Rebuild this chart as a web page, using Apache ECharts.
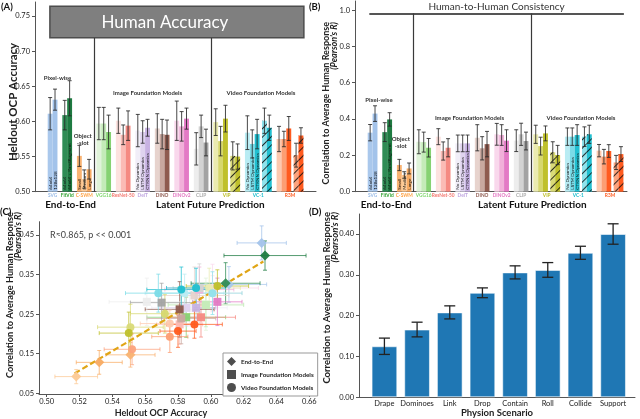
<!DOCTYPE html>
<html>
<head>
<meta charset="utf-8">
<title>Physion OCP</title>
<script src="https://cdn.jsdelivr.net/npm/echarts@6.0.0/dist/echarts.min.js"></script>
<style>
html, body { margin: 0; padding: 0; background: #fff; }
#main { width: 640px; height: 419px; }
</style>
</head>
<body>
<div id="main"></div>
<script>
// model groups shared by panels A, B and C
var groupNames = ['SVG', 'FitVid', 'C-SWM', 'VGG16', 'ResNet-50', 'DeiT', 'DINO', 'DINOv2', 'CLIP', 'VIP', 'VC-1', 'R3M'];
var groupKind = ['End-to-End', 'End-to-End', 'End-to-End',
  'Image Foundation Models', 'Image Foundation Models', 'Image Foundation Models',
  'Image Foundation Models', 'Image Foundation Models', 'Image Foundation Models',
  'Video Foundation Models', 'Video Foundation Models', 'Video Foundation Models'];
var nameColors = ['#9bbde8', '#2ca02c', '#ffa040', '#7dd66a', '#f47a72', '#bea3e0', '#8c564b', '#e377c2', '#aaaaaa', '#bcbd22', '#17becf', '#ff5a1e'];
var barColors = [
  ['#aac8ec', '#a3c3ea'],
  ['#2f8c55', '#1e7b41'],
  ['#f9b373', '#fcca96', '#f8ab63'],
  ['#e0f3d9', '#c4ebb8', '#86d272'],
  ['#fde2df', '#fbbbb5', '#f58a82'],
  ['#f1eef8', '#dfd3ef', '#c7b1e2'],
  ['#e7d3cd', '#c9a89f', '#8f5b4f'],
  ['#f9d8ec', '#f1b0d9', '#e37ac5'],
  ['#ededed', '#d3d3d3', '#a3a3a3'],
  ['#eaebb0', '#d6d76e', '#bfc02c', '#d9da78', '#bfc02c'],
  ['#b9ecf3', '#7adbe7', '#20bfd0', '#8fe2ec', '#20bfd0'],
  ['#fdc9af', '#fc9e73', '#ff5b1f', '#fca37d', '#ff5b1f']
];
var barLabels = [
  ['64x64', '128x128'],
  ['64x64', '64x64 + RandAugment'],
  ['Small', 'Medium', 'Large'],
  [], [],
  ['No Dynamics', 'LSTM Dynamics', 'CTRNN Dynamics'],
  [], [], [], [],
  ['No Dynamics', 'LSTM Dynamics', 'CTRNN Dynamics'],
  []
];

// (A) heldout OCP accuracy
var accMean = [
  [0.611, 0.631], [0.609, 0.633], [0.551, 0.518, 0.532],
  [0.597, 0.597, 0.585], [0.601, 0.581, 0.594], [0.587, 0.585, 0.591],
  [0.590, 0.582, 0.581], [0.601, 0.593, 0.604], [0.561, 0.593, 0.570],
  [0.599, 0.572, 0.604, 0.551, 0.550], [0.584, 0.568, 0.582, 0.601, 0.591], [0.575, 0.575, 0.590, 0.552, 0.580]
];
var accErr = [
  [0.023, 0.015], [0.021, 0.025], [0.015, 0.013, 0.014],
  [0.023, 0.023, 0.024], [0.018, 0.014, 0.021], [0.023, 0.016, 0.012],
  [0.021, 0.021, 0.021], [0.028, 0.021, 0.015], [0.023, 0.016, 0.019],
  [0.019, 0.021, 0.019, 0.020, 0.018], [0.024, 0.020, 0.021, 0.018, 0.018], [0.018, 0.011, 0.017, 0.017, 0.011]
];
var humanAcc = [0.719, 0.764];

// (B) correlation to average human response
var corrMean = [
  [0.325, 0.430], [0.328, 0.398], [0.147, 0.092, 0.128],
  [0.275, 0.273, 0.242], [0.303, 0.224, 0.242], [0.266, 0.266, 0.266],
  [0.297, 0.239, 0.262], [0.316, 0.312, 0.281], [0.281, 0.316, 0.279],
  [0.316, 0.251, 0.321, 0.217, 0.202], [0.303, 0.303, 0.312, 0.303, 0.316], [0.226, 0.193, 0.224, 0.161, 0.207]
];
var corrErr = [
  [0.045, 0.043], [0.052, 0.037], [0.031, 0.018, 0.030],
  [0.066, 0.055, 0.051], [0.044, 0.050, 0.050], [0.046, 0.046, 0.046],
  [0.072, 0.064, 0.070], [0.060, 0.057, 0.060], [0.060, 0.061, 0.049],
  [0.050, 0.049, 0.041, 0.058, 0.053], [0.048, 0.048, 0.057, 0.054, 0.050], [0.034, 0.040, 0.035, 0.039, 0.041]
];
var humanConsistency = 0.982;

// (C) fitted line
var fitLine = [[0.517, 0.100], [0.632, 0.383]];

// (D) per scenario
var scenarios = ['Drape', 'Dominoes', 'Link', 'Drop', 'Contain', 'Roll', 'Collide', 'Support'];
var scenarioCorr = [0.125, 0.166, 0.208, 0.256, 0.306, 0.312, 0.354, 0.400];
var scenarioErr = [0.020, 0.018, 0.016, 0.012, 0.016, 0.018, 0.016, 0.025];

// tick labels
var ticksA = [0.50, 0.55, 0.60, 0.65, 0.70, 0.75];
var ticksB = [0.0, 0.2, 0.4, 0.6, 0.8, 1.0];
var ticksCx = [0.50, 0.52, 0.54, 0.56, 0.58, 0.60, 0.62, 0.64, 0.66];
var ticksCy = [0.05, 0.15, 0.25, 0.35, 0.45];
var ticksD = [0.0, 0.1, 0.2, 0.3, 0.4];
var ticksDx = [0, 1, 2, 3, 4, 5, 6, 7];

var kinds = ['End-to-End', 'Image Foundation Models', 'Video Foundation Models'];
var kindSymbol = ['diamond', 'rect', 'circle'];

// bar slots: bars touch inside a group, one empty slot between groups,
// half a slot before the hatched video bars
var slots = [];
var pos = 0;
groupNames.forEach(function(n, g) {
    if (g > 0) pos += 1;
    accMean[g].forEach(function(v, k) {
        if (k === 3) pos += 0.5;
        slots.push({g: g, k: k, x: pos});
        pos += 1;
    });
});
function groupCenter(g) {
    var xs = slots.filter(function(s) { return s.g === g; }).map(function(s) { return s.x; });
    return (xs[0] + xs[xs.length - 1]) / 2;
}

var hatch = {symbol: 'rect', color: 'rgba(15,15,15,0.85)', dashArrayX: [1, 0], dashArrayY: [1, 5], rotation: -Math.PI / 4};
var axisColor = '#555';
var FONT = 'Lato';

function barData(mean) {
    return slots.map(function(s) {
        var item = {value: [s.x, mean[s.g][s.k]], itemStyle: {color: barColors[s.g][s.k]}};
        if (s.k >= 3) item.itemStyle.decal = hatch;
        var lbl = barLabels[s.g][s.k];
        if (lbl) item.label = {show: true, formatter: lbl};
        return item;
    });
}
function errRows(mean, err) {
    return slots.map(function(s) {
        var m = mean[s.g][s.k], e = err[s.g][s.k];
        return [s.x, m - e, m + e];
    });
}
function vErrSeries(grid, rows, color, width, cap) {
    return {
        type: 'custom', xAxisIndex: grid, yAxisIndex: grid, silent: true, z: 4,
        data: rows,
        renderItem: function(params, api) {
            var a = api.coord([api.value(0), api.value(1)]);
            var b = api.coord([api.value(0), api.value(2)]);
            var st = {stroke: color, lineWidth: width};
            return {type: 'group', children: [
                {type: 'line', shape: {x1: a[0], y1: a[1], x2: b[0], y2: b[1]}, style: st},
                {type: 'line', shape: {x1: a[0] - cap, y1: a[1], x2: a[0] + cap, y2: a[1]}, style: st},
                {type: 'line', shape: {x1: b[0] - cap, y1: b[1], x2: b[0] + cap, y2: b[1]}, style: st}
            ]};
        }
    };
}
function textSeries(grid, items) {
    return {
        type: 'custom', xAxisIndex: grid, yAxisIndex: grid, silent: true, z: 10,
        data: items.map(function(it) { return [it.x, it.y]; }),
        renderItem: function(params, api) {
            var it = items[params.dataIndex];
            var p = api.coord([it.x, it.y]);
            return {type: 'text', x: p[0], y: p[1] + (it.dy || 0), style: {
                text: it.text, fill: it.color || '#333', font: it.font,
                align: 'center', verticalAlign: 'middle', lineHeight: it.lh || 8
            }};
        }
    };
}
function groupTexts(ymin) {
    return groupNames.map(function(n, g) {
        return {x: groupCenter(g), y: ymin, dy: 3.5, text: n, color: nameColors[g], font: 'bold 4.8px ' + FONT};
    });
}
function yAxisCfg(grid, min, max, ticks, digits) {
    return {
        type: 'value', gridIndex: grid, min: min, max: max, position: 'left',
        axisLine: {show: true, onZero: false, lineStyle: {color: axisColor, width: 1}},
        axisTick: {show: true, length: 3, customValues: ticks, lineStyle: {color: axisColor}},
        axisLabel: {customValues: ticks, fontSize: 7.5, color: '#222', margin: 5, fontFamily: FONT,
            formatter: function(v) { return v.toFixed(digits); }},
        splitLine: {show: false}
    };
}
function hiddenX(grid, min, max) {
    return {
        type: 'value', gridIndex: grid, min: min, max: max, position: 'bottom',
        axisLine: {show: true, onZero: false, lineStyle: {color: axisColor, width: 1}},
        axisTick: {show: false}, axisLabel: {show: false}, splitLine: {show: false}
    };
}

var barLabelCfg = {show: false, position: 'insideBottom', rotate: 90, align: 'left', verticalAlign: 'middle',
    distance: 2, fontSize: 4.6, color: '#111', fontFamily: FONT};
var annFont = 'bold 6px ' + FONT;
var groupFont = 'bold 10px ' + FONT;

// scatter (C): each model is drawn from its A and B values
var scatterSeries = kinds.map(function(kd, ki) {
    return {
        type: 'scatter', name: kd, xAxisIndex: 2, yAxisIndex: 2, z: 6,
        symbol: kindSymbol[ki], symbolSize: ki === 0 ? 10 : 8,
        itemStyle: {color: '#222'},
        data: slots.filter(function(s) { return groupKind[s.g] === kd; }).map(function(s) {
            return {value: [accMean[s.g][s.k], corrMean[s.g][s.k]], itemStyle: {color: barColors[s.g][s.k], opacity: 0.95}};
        })
    };
});
var scatterErr = {
    type: 'custom', xAxisIndex: 2, yAxisIndex: 2, silent: true, z: 3,
    data: slots.map(function(s) {
        return [accMean[s.g][s.k], corrMean[s.g][s.k], accErr[s.g][s.k], corrErr[s.g][s.k]];
    }),
    renderItem: function(params, api) {
        var s = slots[params.dataIndex];
        var x = api.value(0), y = api.value(1), xe = api.value(2), ye = api.value(3);
        var l = api.coord([x - xe, y]), r = api.coord([x + xe, y]);
        var t = api.coord([x, y + ye]), b = api.coord([x, y - ye]);
        var st = {stroke: barColors[s.g][s.k], lineWidth: 1, opacity: 0.75};
        var c = 2;
        return {type: 'group', children: [
            {type: 'line', shape: {x1: l[0], y1: l[1], x2: r[0], y2: r[1]}, style: st},
            {type: 'line', shape: {x1: l[0], y1: l[1] - c, x2: l[0], y2: l[1] + c}, style: st},
            {type: 'line', shape: {x1: r[0], y1: r[1] - c, x2: r[0], y2: r[1] + c}, style: st},
            {type: 'line', shape: {x1: t[0], y1: t[1], x2: b[0], y2: b[1]}, style: st},
            {type: 'line', shape: {x1: t[0] - c, y1: t[1], x2: t[0] + c, y2: t[1]}, style: st},
            {type: 'line', shape: {x1: b[0] - c, y1: b[1], x2: b[0] + c, y2: b[1]}, style: st}
        ]};
    }
};

var chart = echarts.init(document.getElementById('main'), null, {renderer: 'canvas'});
var option = {
    animation: false,
    backgroundColor: '#fff',
    textStyle: {fontFamily: FONT},
    grid: [
        {left: 35, top: 2, width: 281, height: 189.7},
        {left: 355, top: 1, width: 272, height: 190.7},
        {left: 39, top: 221.7, width: 277.7, height: 172.3},
        {left: 359, top: 214, width: 276, height: 183.3}
    ],
    xAxis: [
        hiddenX(0, -3.11, 54.59),
        hiddenX(1, -3.11, 52.74),
        {
            type: 'value', gridIndex: 2, min: 0.4953, max: 0.6645,
            axisLine: {show: true, onZero: false, lineStyle: {color: axisColor}},
            axisTick: {show: true, length: 3, customValues: ticksCx, lineStyle: {color: axisColor}},
            axisLabel: {customValues: ticksCx, fontSize: 7.5, color: '#222', margin: 4, fontFamily: FONT,
                formatter: function(v) { return v.toFixed(2); }},
            splitLine: {show: false}
        },
        {
            type: 'value', gridIndex: 3, min: -0.778, max: 7.67,
            axisLine: {show: true, onZero: false, lineStyle: {color: axisColor}},
            axisTick: {show: false},
            axisLabel: {customValues: ticksDx, fontSize: 7.5, color: '#222', margin: 2, fontFamily: FONT,
                formatter: function(v) { return scenarios[Math.round(v)]; }},
            splitLine: {show: false}
        }
    ],
    yAxis: [
        yAxisCfg(0, 0.5, 0.77, ticksA, 2),
        yAxisCfg(1, 0, 1.05, ticksB, 1),
        yAxisCfg(2, 0.048, 0.4836, ticksCy, 2),
        yAxisCfg(3, 0, 0.449, ticksD, 2)
    ],
    legend: {
        data: kinds, orient: 'vertical', left: 223, top: 353,
        itemWidth: 9, itemHeight: 9, itemGap: 4, padding: [4, 4],
        borderColor: '#999', borderWidth: 1, backgroundColor: '#fff',
        selectedMode: false,
        textStyle: {fontFamily: FONT, fontWeight: 'bold', fontSize: 6.3, color: '#222'}
    },
    graphic: [
        {type: 'text', left: 1, top: 2, style: {text: '(A)', font: 'bold 9.5px ' + FONT, fill: '#111'}},
        {type: 'text', left: 309, top: 2, style: {text: '(B)', font: 'bold 9.5px ' + FONT, fill: '#111'}},
        {type: 'text', left: 0, top: 207, style: {text: '(C)', font: 'bold 9.5px ' + FONT, fill: '#111'}},
        {type: 'text', left: 309, top: 207, style: {text: '(D)', font: 'bold 9.5px ' + FONT, fill: '#111'}},
        {type: 'text', x: 13, y: 102, rotation: Math.PI / 2,
            style: {text: 'Heldout OCP Accuracy', font: 'bold 11.5px ' + FONT, fill: '#222', align: 'center', verticalAlign: 'middle'}},
        {type: 'text', x: 326, y: 22, rotation: Math.PI / 2,
            style: {text: 'Correlation to Average Human Response', font: 'bold 9px ' + FONT, fill: '#222', align: 'right', verticalAlign: 'middle'}},
        {type: 'text', x: 334.5, y: 22, rotation: Math.PI / 2,
            style: {text: "(Pearson's R)", font: 'italic bold 9px ' + FONT, fill: '#222', align: 'right', verticalAlign: 'middle'}},
        {type: 'text', x: 10, y: 212, rotation: Math.PI / 2,
            style: {text: 'Correlation to Average Human Response', font: 'bold 9.2px ' + FONT, fill: '#222', align: 'right', verticalAlign: 'middle'}},
        {type: 'text', x: 18.5, y: 212, rotation: Math.PI / 2,
            style: {text: "(Pearson's R)", font: 'italic bold 9.2px ' + FONT, fill: '#222', align: 'right', verticalAlign: 'middle'}},
        {type: 'text', x: 327, y: 212, rotation: Math.PI / 2,
            style: {text: 'Correlation to Average Human Response', font: 'bold 9.5px ' + FONT, fill: '#222', align: 'right', verticalAlign: 'middle'}},
        {type: 'text', x: 335, y: 212, rotation: Math.PI / 2,
            style: {text: "(Pearson's R)", font: 'italic bold 9.5px ' + FONT, fill: '#222', align: 'right', verticalAlign: 'middle'}},
        {type: 'text', x: 161, y: 413, style: {text: 'Heldout OCP Accuracy', font: 'bold 9px ' + FONT, fill: '#222', align: 'center', verticalAlign: 'middle'}},
        {type: 'text', x: 497, y: 413, style: {text: 'Physion Scenario', font: 'bold 9.5px ' + FONT, fill: '#222', align: 'center', verticalAlign: 'middle'}},
        {type: 'text', x: 50, y: 235, style: {text: 'R\u22480.865, p << 0.001', font: '9px ' + FONT, fill: '#444', align: 'left', verticalAlign: 'middle'}}
    ],
    series: [
        // (A)
        {
            type: 'bar', xAxisIndex: 0, yAxisIndex: 0, barWidth: 4.9, z: 2,
            label: barLabelCfg,
            data: barData(accMean),
            markArea: {
                silent: true,
                itemStyle: {color: '#7f7f7f', borderColor: '#4d4d4d', borderWidth: 1.5},
                label: {show: true, position: 'inside', offset: [-12, 0], color: '#fff', fontSize: 17, fontFamily: FONT},
                data: [[{name: 'Human Accuracy', xAxis: -0.05, yAxis: humanAcc[0]}, {xAxis: 52.1, yAxis: humanAcc[1]}]]
            },
            markLine: {
                silent: true, symbol: ['none', 'none'],
                lineStyle: {color: '#3a3a3a', width: 1.2, type: 'solid'},
                label: {show: false},
                data: [
                    [{coord: [9, 0.5]}, {coord: [9, humanAcc[0]]}],
                    [{coord: [33, 0.5]}, {coord: [33, humanAcc[0]]}]
                ]
            }
        },
        vErrSeries(0, errRows(accMean, accErr), 'rgba(40,40,40,0.85)', 1, 2),
        textSeries(0, groupTexts(0.5).concat([
            {x: 1.5, y: 0.662, text: 'Pixel-wise', font: annFont},
            {x: 6.7, y: 0.574, text: 'Object\n-slot', font: annFont, lh: 7.5},
            {x: 20, y: 0.64, text: 'Image Foundation Models', font: annFont},
            {x: 43.3, y: 0.64, text: 'Video Foundation Models', font: annFont},
            {x: 4.2, y: 0.5, dy: 13.5, text: 'End-to-End', font: groupFont, color: '#111'},
            {x: 32.9, y: 0.5, dy: 13.5, text: 'Latent Future Prediction', font: groupFont, color: '#111'}
        ])),
        // (B)
        {
            type: 'bar', xAxisIndex: 1, yAxisIndex: 1, barWidth: 4.9, z: 2,
            label: barLabelCfg,
            data: barData(corrMean),
            markLine: {
                silent: true, symbol: ['none', 'none'],
                lineStyle: {color: '#3a3a3a', width: 1.2, type: 'solid'},
                label: {show: false},
                data: [
                    [{coord: [-0.17, humanConsistency], lineStyle: {color: '#555', width: 2},
                        label: {show: true, position: 'insideMiddleTop', formatter: 'Human-to-Human Consistency',
                            color: '#333', fontSize: 10, fontFamily: FONT, distance: 2}},
                        {coord: [52.1, humanConsistency]}],
                    [{coord: [8.8, 0]}, {coord: [8.8, humanConsistency]}],
                    [{coord: [33, 0]}, {coord: [33, humanConsistency]}]
                ]
            }
        },
        vErrSeries(1, errRows(corrMean, corrErr), 'rgba(40,40,40,0.85)', 1, 2),
        textSeries(1, groupTexts(0).concat([
            {x: 1.8, y: 0.505, text: 'Pixel-wise', font: annFont},
            {x: 6.3, y: 0.271, text: 'Object\n-slot', font: annFont, lh: 7.5},
            {x: 20.4, y: 0.405, text: 'Image Foundation Models', font: annFont},
            {x: 43.3, y: 0.405, text: 'Video Foundation Models', font: annFont},
            {x: 3.3, y: 0, dy: 13.5, text: 'End-to-End', font: groupFont, color: '#111'},
            {x: 33.3, y: 0, dy: 13.5, text: 'Latent Future Prediction', font: groupFont, color: '#111'}
        ])),
        // (C)
        scatterErr,
        {
            type: 'line', xAxisIndex: 2, yAxisIndex: 2, z: 5, symbol: 'none', silent: true,
            lineStyle: {color: '#e0a516', width: 2.2, type: [6, 3]},
            data: fitLine
        }
    ].concat(scatterSeries).concat([
        // (D)
        {
            type: 'bar', xAxisIndex: 3, yAxisIndex: 3, barWidth: 25.7, z: 2,
            itemStyle: {color: '#1f77b4', borderColor: 'rgba(255,255,255,0.55)', borderWidth: 1},
            data: scenarioCorr.map(function(v, i) { return [i, v]; })
        },
        vErrSeries(3, scenarioCorr.map(function(v, i) { return [i, v - scenarioErr[i], v + scenarioErr[i]]; }), '#222', 1.3, 5.5)
    ])
};
chart.setOption(option);
</script>
</body>
</html>
